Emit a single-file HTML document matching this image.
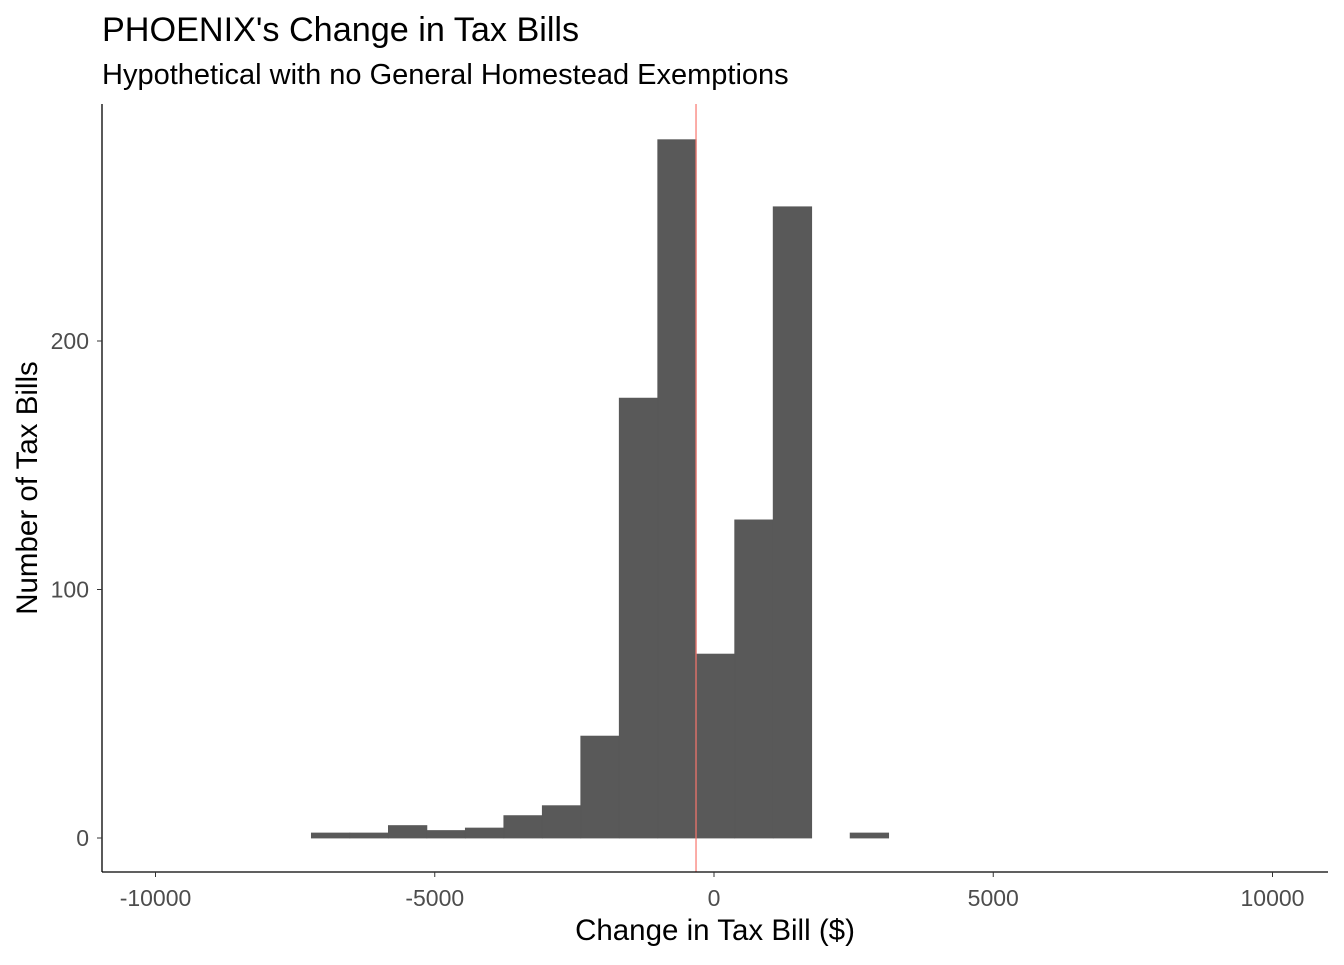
<!DOCTYPE html>
<html><head><meta charset="utf-8"><style>
body{margin:0;background:#fff;font-family:"Liberation Sans",Arial,sans-serif}
</style></head><body>
<svg id="chart" width="1344" height="960" xmlns="http://www.w3.org/2000/svg">
<text x="102" y="41" font-size="34.2" fill="#000">PHOENIX's Change in Tax Bills</text>
<text x="102" y="84" font-size="29" fill="#000">Hypothetical with no General Homestead Exemptions</text>
<g id="bars"></g>
<g id="axes"></g>
<text x="715" y="940" font-size="29.5" text-anchor="middle" fill="#000">Change in Tax Bill ($)</text>
<text transform="translate(37,488) rotate(-90)" font-size="29.5" text-anchor="middle" fill="#000">Number of Tax Bills</text>
</svg>
<script>
const binStarts=[-7209,-6520,-5830,-5141,-4452,-3763,-3074,-2385,-1696,-1007,-318,371,1060,1749,2438];
const counts=[2,2,5,3,4,9,13,41,177,281,74,128,254,0,2];
const binWidth=689;
const meanLine=-322;
const xTicks=[-10000,-5000,0,5000,10000];
const yTicks=[0,100,200];
const xs=v=>714+v*0.05585;
const ys=v=>838-v*2.485;
const NS="http://www.w3.org/2000/svg";
const bars=document.getElementById('bars'),axes=document.getElementById('axes');
function mk(tag,at,parent){const e=document.createElementNS(NS,tag);for(const k in at)e.setAttribute(k,at[k]);parent.appendChild(e);return e;}
binStarts.forEach((b,i)=>{
 if(counts[i]<=0)return;
 const r=mk('rect',{x:xs(b),y:ys(counts[i]),width:xs(b+binWidth)-xs(b),height:ys(0)-ys(counts[i]),fill:'#595959',stroke:'#595959','stroke-width':0.8},bars);
 
 
});
const ml=mk('line',{x1:xs(meanLine),x2:xs(meanLine),y1:104,y2:872,stroke:'#f8766d','stroke-width':1.2},bars);


const xa=mk('line',{x1:102,x2:1328,y1:872,y2:872,stroke:'#000','stroke-width':1.3},axes);


const ya=mk('line',{x1:102,x2:102,y1:104,y2:872,stroke:'#000','stroke-width':1.3},axes);


xTicks.forEach(t=>{
 mk('line',{x1:xs(t),x2:xs(t),y1:872,y2:877,stroke:'#333'},axes);
 const tx=mk('text',{x:xs(t),y:906,'font-size':23,'text-anchor':'middle',fill:'#4d4d4d'},axes);
 tx.textContent=t;
 
 
});
yTicks.forEach(t=>{
 mk('line',{x1:97,x2:102,y1:ys(t),y2:ys(t),stroke:'#333'},axes);
 const tx=mk('text',{x:89,y:ys(t)+8,'font-size':23,'text-anchor':'end',fill:'#4d4d4d'},axes);
 tx.textContent=t;
 
 
});
</script>
</body></html>
